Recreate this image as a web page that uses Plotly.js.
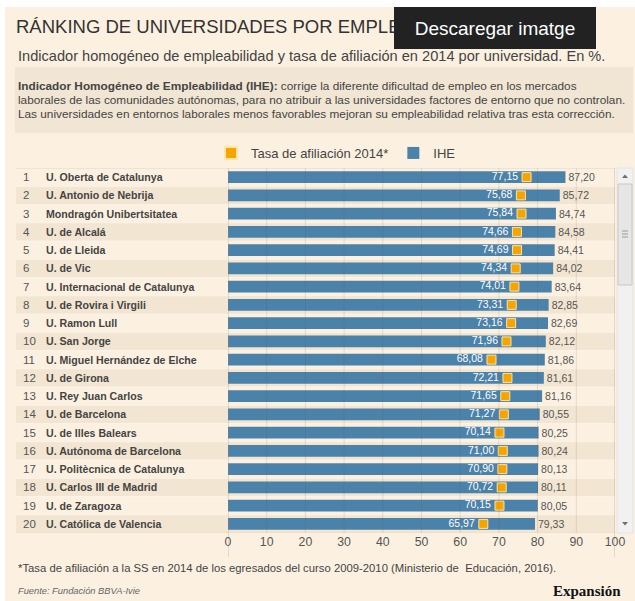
<!DOCTYPE html>
<html>
<head>
<meta charset="utf-8">
<script src="https://cdn.plot.ly/plotly-3.0.1.min.js"></script>
<style>
html,body{margin:0;padding:0;background:#ffffff;}
#chart{width:635px;height:601px;}
</style>
</head>
<body>
<div id="chart"></div>
<script>
// ---------- DATA ----------
const ranks = [1,2,3,4,5,6,7,8,9,10,11,12,13,14,15,16,17,18,19,20];
const universidades = [
  "U. Oberta de Catalunya",
  "U. Antonio de Nebrija",
  "Mondragón Unibertsitatea",
  "U. de Alcalá",
  "U. de Lleida",
  "U. de Vic",
  "U. Internacional de Catalunya",
  "U. de Rovira i Virgili",
  "U. Ramon Lull",
  "U. San Jorge",
  "U. Miguel Hernández de Elche",
  "U. de Girona",
  "U. Rey Juan Carlos",
  "U. de Barcelona",
  "U. de Illes Balears",
  "U. Autónoma de Barcelona",
  "U. Politècnica de Catalunya",
  "U. Carlos III de Madrid",
  "U. de Zaragoza",
  "U. Católica de Valencia"
];
const tasaAfiliacion = [77.15,75.68,75.84,74.66,74.69,74.34,74.01,73.31,73.16,71.96,68.08,72.21,71.65,71.27,70.14,71.00,70.90,70.72,70.15,65.97];
const ihe = [87.20,85.72,84.74,84.58,84.41,84.02,83.64,82.85,82.69,82.12,81.86,81.61,81.16,80.55,80.25,80.24,80.13,80.11,80.05,79.33];
const xTicks = [0,10,20,30,40,50,60,70,80,90,100];

// ---------- LAYOUT HELPERS ----------
const W = 635, H = 601, L = 228, R = 20, T = 168, B = 68;
const PW = W - L - R, PH = H - T - B;
const px = x => (x - L) / PW;
const py = y => (H - B - y) / PH;
const path = pts => 'M' + pts.map(p => px(p[0]) + ',' + py(p[1])).join(' L') + ' Z';

const FONT = '"Liberation Sans", Arial, Helvetica, sans-serif';
const BG = '#fcf1e1';
const BOX = '#f1e5d3';
const STRIPE = '#f2e5d1';
const BLUE = '#4b82aa';
const ORANGE = '#f6a500';

// ---------- TRACES ----------
const traces = [
  {
    type: 'bar', orientation: 'h',
    x: ihe, y: universidades, name: 'IHE',
    width: 0.65,
    marker: {color: BLUE, line: {width: 0}},
    texttemplate: '%{x:.2f}', textposition: 'outside', constraintext: 'none',
    textfont: {family: FONT, size: 10.5, color: '#555555'},
    cliponaxis: false, legendrank: 2, hoverinfo: 'skip'
  },
  {
    type: 'scatter', mode: 'markers+text',
    x: tasaAfiliacion, y: universidades, showlegend: false,
    marker: {size: 12, color: 'rgba(0,0,0,0)', line: {width: 0}},
    texttemplate: '%{x:.2f}', textposition: 'middle left',
    textfont: {family: FONT, size: 10.5, color: '#ffffff'},
    cliponaxis: false, hoverinfo: 'skip'
  },
  {
    type: 'scatter', mode: 'markers',
    x: tasaAfiliacion, y: universidades, name: 'Tasa de afiliación 2014*',
    marker: {symbol: 'square', size: 9, color: ORANGE, line: {color: '#fde4a8', width: 1}},
    cliponaxis: false, legendrank: 1, hoverinfo: 'skip'
  }
];

// ---------- SHAPES ----------
const shapes = [];
shapes.push({type:'rect', xref:'paper', yref:'paper', x0:px(5), x1:px(W), y0:py(H), y1:py(7), fillcolor:BG, line:{width:0}, layer:'below'});
shapes.push({type:'rect', xref:'paper', yref:'paper', x0:px(15), x1:px(633), y0:py(133), y1:py(67), fillcolor:BOX, line:{width:0}, layer:'below'});
universidades.forEach((u, i) => {
  if (i % 2 === 1) {
    shapes.push({type:'rect', xref:'paper', yref:'y', x0:px(16), x1:1, y0:i-0.5, y1:i+0.5, fillcolor:STRIPE, line:{width:0}, layer:'below'});
  }
});
universidades.forEach((u, i) => {
  shapes.push({type:'line', xref:'paper', yref:'y', x0:px(16), x1:1, y0:i-0.5, y1:i-0.5, line:{color: i === 0 ? '#e4d6c2' : '#faf3ea', width:1}, layer:'below'});
});
shapes.push({type:'line', xref:'paper', yref:'y', x0:px(16), x1:1, y0:universidades.length-0.5, y1:universidades.length-0.5, line:{color:'#e8dccb', width:1}, layer:'below'});
xTicks.forEach(t => {
  const edge = (t === xTicks[0] || t === xTicks[xTicks.length-1]);
  shapes.push({type:'line', xref:'x', yref:'paper', x0:t, x1:t,
    y0: edge ? py(557) : 0, y1: 1,
    line:{color: edge ? 'rgba(150,125,95,0.45)' : 'rgba(110,80,40,0.14)', width:1}, layer:'above'});
});
// scrollbar
shapes.push({type:'rect', xref:'paper', yref:'paper', x0:px(617), x1:px(633), y0:py(533), y1:py(168), fillcolor:'#f1f1f1', line:{color:'#e4e4e4', width:1}, layer:'above'});
shapes.push({type:'rect', xref:'paper', yref:'paper', x0:px(618), x1:px(632), y0:py(285), y1:py(184), fillcolor:'#e6e6e6', line:{color:'#c8c8c8', width:1}, layer:'above'});
[231,234,237].forEach(y => shapes.push({type:'line', xref:'paper', yref:'paper', x0:px(622), x1:px(628), y0:py(y), y1:py(y), line:{color:'#9a9a9a', width:1}, layer:'above'}));
shapes.push({type:'path', xref:'paper', yref:'paper', path:path([[622,178],[628,178],[625,174.5]]), fillcolor:'#6f6f6f', line:{width:0}, layer:'above'});
shapes.push({type:'path', xref:'paper', yref:'paper', path:path([[622,522],[628,522],[625,525.5]]), fillcolor:'#6f6f6f', line:{width:0}, layer:'above'});

// ---------- ANNOTATIONS ----------
const ann = [];
const txt = (text, x, y, size, color, extra) => Object.assign({
  text, xref:'paper', yref:'paper', x:px(x), y:py(y), xanchor:'left', yanchor:'middle',
  showarrow:false, font:{family:FONT, size, color}
}, extra || {});

ann.push(txt('Indicador homogéneo de empleabilidad y tasa de afiliación en 2014 por universidad. En %.', 16, 56, 14.6, '#444444'));
ann.push(txt('<b>Indicador Homogéneo de Empleabilidad (IHE):</b> corrige la diferente dificultad de empleo en los mercados', 16, 86, 11.8, '#444444'));
ann.push(txt('laborales de las comunidades autónomas, para no atribuir a las universidades factores de entorno que no controlan.', 16, 100, 11.8, '#444444'));
ann.push(txt('Las universidades en entornos laborales menos favorables mejoran su empleabilidad relativa tras esta corrección.', 16, 114, 11.8, '#444444'));

universidades.forEach((u, i) => {
  ann.push({text:String(ranks[i]), xref:'paper', yref:'y', x:px(21), y:u, xanchor:'left', yanchor:'middle', showarrow:false, font:{family:FONT, size:11.5, color:'#555555'}});
  ann.push({text:'<b>' + u + '</b>', xref:'paper', yref:'y', x:px(44), y:u, xanchor:'left', yanchor:'middle', showarrow:false, font:{family:FONT, size:10.6, color:'#444444'}});
});

ann.push(txt('*Tasa de afiliación a la SS en 2014 de los egresados del curso 2009-2010 (Ministerio de  Educación, 2016).', 16, 568, 11.3, '#444444'));
ann.push(txt('<i>Fuente: Fundación BBVA-Ivie</i>', 16, 591, 9.3, '#666666'));
ann.push(txt('<b>Expansión</b>', 623, 591, 15, '#111111', {xanchor:'right', font:{family:'"Liberation Serif", "Times New Roman", serif', size:15, color:'#111111'}}));
// download tooltip overlay
ann.push({text:'Descaregar imatge', xref:'paper', yref:'paper', x:px(495), y:py(28), xanchor:'center', yanchor:'middle',
  showarrow:false, bgcolor:'#222222', width:202, height:42, borderpad:0, borderwidth:0,
  font:{family:FONT, size:19, color:'#ffffff'}});

// ---------- LAYOUT ----------
const layout = {
  width: W, height: H, autosize: false,
  margin: {l:L, r:R, t:T, b:B, pad:0},
  paper_bgcolor: '#ffffff', plot_bgcolor: 'rgba(0,0,0,0)',
  separators: ',.',
  font: {family: FONT, color: '#444444'},
  // visible part of the title (the rest is hidden behind the download tooltip)
  title: {text:'RÁNKING DE UNIVERSIDADES POR EMPLE', xref:'container', yref:'container',
          x: 16/W, xanchor:'left', y: 1 - 27/H, yanchor:'middle',
          font:{family:FONT, size:18.5, color:'#333333'}},
  xaxis: {range:[0,100], tickvals:xTicks, showgrid:false, zeroline:false, showline:false, ticks:'',
          tickfont:{family:FONT, size:12.3, color:'#555555'}, fixedrange:true},
  yaxis: {type:'category', range:[universidades.length-0.5, -0.5], showticklabels:false, showgrid:false,
          zeroline:false, showline:false, ticks:'', fixedrange:true},
  showlegend: true,
  legend: {orientation:'h', xref:'paper', yref:'paper', x:px(211), xanchor:'left', y:py(153), yanchor:'middle',
           font:{family:FONT, size:13, color:'#444444'}, bgcolor:'rgba(0,0,0,0)', itemsizing:'constant'},
  hovermode: false,
  shapes: shapes,
  annotations: ann
};

Plotly.newPlot('chart', traces, layout, {displayModeBar:false, staticPlot:true});
</script>
</body>
</html>
